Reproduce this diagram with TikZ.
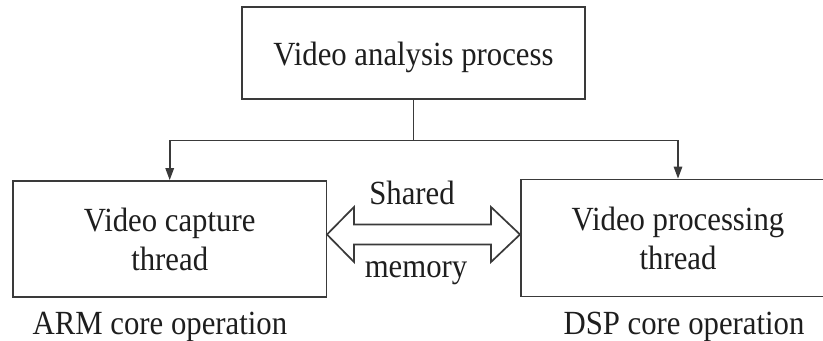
\documentclass[tikz,border=0pt]{standalone}
\usepackage{fontspec}
\setmainfont{Liberation Serif}[FakeStretch=0.91]
\usetikzlibrary{arrows.meta}
\definecolor{linec}{HTML}{3A3A3A}
\definecolor{textc}{HTML}{1E1E1E}
\begin{document}
\begin{tikzpicture}[x=0.5pt,y=-0.5pt,
  every node/.style={text=textc,font=\fontsize{16.9}{19.5}\selectfont,inner sep=0pt},
  boxnode/.style={draw=linec,line width=0.85pt,fill=white,align=center,
    minimum width=#1},
  arr/.style={draw=linec,line width=0.85pt,-{Triangle[length=6pt,width=4.2pt]}}]
\useasboundingbox (0,0) rectangle (823,341);
\clip (0,0) rectangle (823,341);
\fill[white] (0,0) rectangle (823,341);
\node[boxnode=171.5pt,minimum height=46pt,text height=12.7pt,text depth=0pt] (top) at (413.5,53.3) {Video analysis process};
\node[boxnode=156.75pt,minimum height=58pt] (cap) at (169.7,239) {Video capture\\thread};
\node[boxnode=157pt,minimum height=58.5pt] (proc) at (678,238) {Video processing\\thread};
\coordinate (j) at (413.5,140.5);
\draw[arr] (top.south) -- (j) -| (cap.north);
\draw[arr] (j) -| (proc.north);
\draw[linec,line width=0.85pt,line join=miter,fill=white]
  (327,234.5) -- (354,207) -- (354,224.5) -- (491,224.5) -- (491,207) -- (520,234.5)
  -- (491,262) -- (491,244.5) -- (354,244.5) -- (354,262) -- cycle;
\node[anchor=base] (shared) at (412,205) {Shared};
\node[anchor=base] (mem) at (416,278) {memory};
\node[anchor=base] (arm) at (160,335) {ARM core operation};
\node[anchor=base] (dsp) at (684,335) {DSP core operation};
\end{tikzpicture}
\end{document}
